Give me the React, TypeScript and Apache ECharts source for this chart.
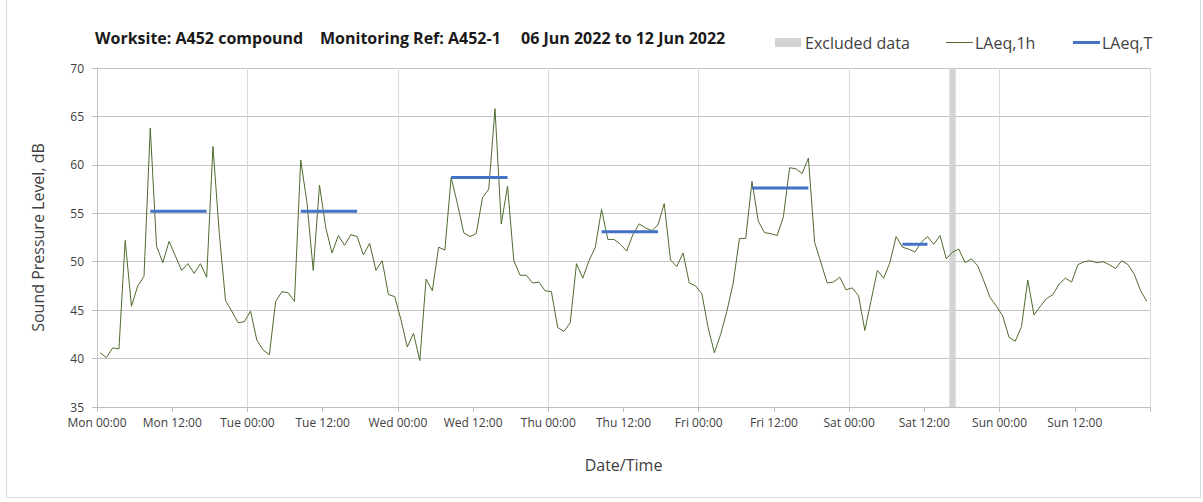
import React, { useEffect, useRef } from 'react';
import * as echarts from 'echarts';

const dayNames = ['Mon', 'Tue', 'Wed', 'Thu', 'Fri', 'Sat', 'Sun'];

// Hourly LAeq,1h values, Mon 00:00 .. Sun 23:00
const laeq1h = [
  40.6, 40.1, 41.1, 41.0, 52.2, 45.4, 47.5, 48.5, 63.8, 51.6, 49.9, 52.1, 50.6, 49.1, 49.8, 48.8, 49.8, 48.4, 61.9, 53.0, 46.0, 44.9, 43.7, 43.8,
  44.9, 41.9, 40.9, 40.4, 45.9, 46.9, 46.8, 45.9, 60.5, 56.1, 49.1, 57.9, 53.5, 50.9, 52.7, 51.7, 52.8, 52.6, 50.7, 51.9, 49.1, 50.1, 46.6, 46.4,
  44.0, 41.2, 42.6, 39.8, 48.2, 47.0, 51.5, 51.2, 58.7, 56.0, 53.0, 52.6, 52.9, 56.6, 57.5, 65.8, 53.9, 57.8, 50.1, 48.6, 48.6, 47.8, 47.9, 47.0,
  46.9, 43.2, 42.8, 43.7, 49.8, 48.3, 50.1, 51.5, 55.4, 52.3, 52.3, 51.8, 51.1, 52.8, 53.9, 53.5, 53.2, 53.8, 56.0, 50.2, 49.5, 50.9, 47.8, 47.5,
  46.7, 43.2, 40.6, 42.5, 44.9, 47.8, 52.4, 52.4, 58.3, 54.2, 53.0, 52.9, 52.7, 54.6, 59.7, 59.6, 59.1, 60.7, 52.0, 49.9, 47.8, 47.9, 48.4, 47.1,
  47.3, 46.5, 42.9, 46.0, 49.1, 48.3, 49.9, 52.6, 51.5, 51.3, 51.0, 52.0, 52.6, 51.8, 52.7, 50.3, 51.0, 51.3, 49.9, 50.3, 49.6, 48.0, 46.3, 45.4,
  44.4, 42.2, 41.8, 43.3, 48.1, 44.5, 45.4, 46.2, 46.6, 47.7, 48.3, 47.9, 49.7, 50.0, 50.1, 49.9, 50.0, 49.7, 49.3, 50.1, 49.7, 48.7, 47.0, 45.9,
];

// LAeq,T periods (hour index of first and last hourly value)
const periodStartHour = [8, 32, 56, 80, 104, 128];
const periodEndHour = [17, 41, 65, 89, 113, 132];
const laeqT = [55.2, 55.2, 58.7, 53.1, 57.6, 51.8];

// Excluded data (hours from Mon 00:00)
const excludedFrom = 136;
const excludedTo = 137;

const titleParts = ['Worksite: A452 compound', 'Monitoring Ref: A452-1', '06 Jun 2022 to 12 Jun 2022'];
const legendNames = ['Excluded data', 'LAeq,1h', 'LAeq,T'];

const GREEN = '#4F6B2F';
const BLUE = '#4472C4';
const GREY = '#d3d3d3';

export default function App() {
  const ref = useRef<HTMLDivElement>(null);

  useEffect(() => {
    const chart = echarts.init(ref.current as HTMLDivElement, null, { renderer: 'svg' });
    const hourlyData = laeq1h.map((v, i) => [i + 0.5, v]);
    const tData: any[] = [];
    laeqT.forEach((v, k) => {
      tData.push([periodStartHour[k] + 0.5, v]);
      tData.push([periodEndHour[k] + 0.5, v]);
      tData.push([periodEndHour[k] + 1, '-']);
    });

    const font = '"Open Sans", sans-serif';
    const titleX = [95, 320, 521];
    const legendY = 42.5;
    const legendText = (text: string, x: number) => ({
      type: 'text',
      x,
      y: legendY,
      silent: true,
      style: { text, font: `16px ${font}`, fill: '#404040', verticalAlign: 'middle' },
    });

    chart.setOption({
      animation: false,
      textStyle: { fontFamily: font },
      grid: { left: 97, right: 53, top: 68, bottom: 95 },
      xAxis: [
        {
          type: 'value',
          min: 0,
          max: 168,
          interval: 12,
          name: 'Date/Time',
          nameLocation: 'middle',
          nameGap: 50,
          nameTextStyle: { fontSize: 16, color: '#404040' },
          axisLine: { show: true, lineStyle: { color: '#bfbfbf' } },
          axisTick: { show: true, length: 5, lineStyle: { color: '#bfbfbf' } },
          axisLabel: {
            fontSize: 12,
            color: '#404040',
            margin: 9,
            formatter: (v: number) =>
              v >= 168 ? '' : `${dayNames[Math.floor(v / 24)]} ${v % 24 === 0 ? '00' : '12'}:00`,
          },
          splitLine: { show: false },
        },
        {
          type: 'value',
          min: 0,
          max: 168,
          interval: 24,
          position: 'bottom',
          axisLine: { show: false },
          axisTick: { show: false },
          axisLabel: { show: false },
          splitLine: { show: true, lineStyle: { color: '#d9d9d9' } },
        },
      ],
      yAxis: {
        type: 'value',
        min: 35,
        max: 70,
        interval: 5,
        name: 'Sound Pressure Level, dB',
        nameLocation: 'middle',
        nameGap: 51,
        nameTextStyle: { fontSize: 16, color: '#404040' },
        axisLine: { show: true, lineStyle: { color: '#bfbfbf' } },
        axisTick: { show: true, length: 5, lineStyle: { color: '#bfbfbf' } },
        axisLabel: { fontSize: 12, color: '#404040', margin: 13 },
        splitLine: { show: true, lineStyle: { color: '#c4c4c4' } },
      },
      graphic: [
        {
          type: 'rect',
          silent: true,
          shape: { x: 6.5, y: -1, width: 1194, height: 498.5 },
          style: { fill: 'none', stroke: '#d9d9d9', lineWidth: 1 },
        },
        ...titleParts.map((t, i) => ({
          type: 'text',
          x: titleX[i],
          y: 38,
          silent: true,
          style: {
            text: t,
            font: `bold 16px ${font}`,
            fill: '#1a1a1a',
            verticalAlign: 'middle',
          },
        })),
        // legend
        {
          type: 'rect',
          silent: true,
          shape: { x: 775, y: 38, width: 26, height: 9 },
          style: { fill: GREY },
        },
        legendText(legendNames[0], 805),
        {
          type: 'line',
          silent: true,
          shape: { x1: 946, y1: legendY, x2: 973, y2: legendY },
          style: { stroke: GREEN, lineWidth: 1 },
        },
        legendText(legendNames[1], 975),
        {
          type: 'line',
          silent: true,
          shape: { x1: 1073, y1: legendY, x2: 1100, y2: legendY },
          style: { stroke: BLUE, lineWidth: 3 },
        },
        legendText(legendNames[2], 1102),
      ],
      series: [
        {
          name: legendNames[0],
          type: 'line',
          xAxisIndex: 0,
          data: [],
          color: GREY,
          markArea: {
            silent: true,
            itemStyle: { color: GREY },
            data: [[{ xAxis: excludedFrom }, { xAxis: excludedTo }]],
          },
        },
        {
          name: legendNames[1],
          type: 'line',
          xAxisIndex: 0,
          data: hourlyData,
          symbol: 'none',
          color: GREEN,
          lineStyle: { color: GREEN, width: 1 },
          z: 3,
        },
        {
          name: legendNames[2],
          type: 'line',
          xAxisIndex: 0,
          data: tData,
          symbol: 'none',
          connectNulls: false,
          color: BLUE,
          lineStyle: { color: BLUE, width: 3 },
          z: 4,
        },
      ],
    });

    return () => chart.dispose();
  }, []);

  return <div ref={ref} style={{ position: 'absolute', left: 0, top: 0, width: 1203, height: 502 }} />;
}
